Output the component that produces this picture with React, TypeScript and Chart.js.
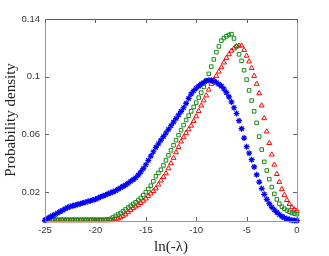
import React, { useEffect, useRef } from "react";
import { Chart, registerables } from "chart.js";

Chart.register(...registerables);

// x grid (ln(-λ)), step 0.25 from -25 to 0
const xValues: number[] = [
  -25, -24.75, -24.5, -24.25, -24, -23.75, -23.5, -23.25, -23, -22.75,
  -22.5, -22.25, -22, -21.75, -21.5, -21.25, -21, -20.75, -20.5, -20.25,
  -20, -19.75, -19.5, -19.25, -19, -18.75, -18.5, -18.25, -18, -17.75,
  -17.5, -17.25, -17, -16.75, -16.5, -16.25, -16, -15.75, -15.5, -15.25,
  -15, -14.75, -14.5, -14.25, -14, -13.75, -13.5, -13.25, -13, -12.75,
  -12.5, -12.25, -12, -11.75, -11.5, -11.25, -11, -10.75, -10.5, -10.25,
  -10, -9.75, -9.5, -9.25, -9, -8.75, -8.5, -8.25, -8, -7.75,
  -7.5, -7.25, -7, -6.75, -6.5, -6.25, -6, -5.75, -5.5, -5.25,
  -5, -4.75, -4.5, -4.25, -4, -3.75, -3.5, -3.25, -3, -2.75,
  -2.5, -2.25, -2, -1.75, -1.5, -1.25, -1, -0.75, -0.5, -0.25, 0,
];

const blueStars: number[] = [
  0.0005, 0.0018, 0.0028, 0.0037, 0.0045, 0.0055, 0.0065, 0.0075, 0.0085, 0.0093,
  0.01, 0.0105, 0.011, 0.0115, 0.012, 0.0125, 0.013, 0.0135, 0.014, 0.0145,
  0.015, 0.0158, 0.0167, 0.0173, 0.018, 0.0188, 0.0195, 0.0202, 0.021, 0.022,
  0.023, 0.024, 0.025, 0.0262, 0.0275, 0.0287, 0.03, 0.0318, 0.034, 0.0363,
  0.039, 0.042, 0.045, 0.048, 0.051, 0.0535, 0.056, 0.0585, 0.061, 0.0635,
  0.066, 0.0685, 0.071, 0.0735, 0.076, 0.0785, 0.0815, 0.085, 0.088, 0.0903,
  0.092, 0.0935, 0.095, 0.096, 0.097, 0.0975, 0.0975, 0.0968, 0.096, 0.0948,
  0.0935, 0.0915, 0.089, 0.086, 0.0825, 0.0785, 0.0745, 0.0695, 0.064, 0.0575,
  0.0515, 0.047, 0.0425, 0.0375, 0.032, 0.027, 0.0225, 0.0185, 0.015, 0.012,
  0.0095, 0.0078, 0.006, 0.0045, 0.0032, 0.0022, 0.0015, 0.001, 0.0006, 0.0004, 0.0003,
];

const greenSquares: number[] = [
  0.0008, 0.0008, 0.0008, 0.0008, 0.0008, 0.0008, 0.0008, 0.0008, 0.0008, 0.0008,
  0.0008, 0.0008, 0.0008, 0.0008, 0.0008, 0.0008, 0.0008, 0.0008, 0.0008, 0.0008,
  0.0008, 0.0008, 0.0008, 0.0008, 0.0008, 0.001, 0.0015, 0.0025, 0.0035, 0.0045,
  0.0055, 0.0068, 0.008, 0.0093, 0.0105, 0.0118, 0.013, 0.0145, 0.016, 0.018,
  0.02, 0.0222, 0.0245, 0.0275, 0.031, 0.0333, 0.0355, 0.0385, 0.042, 0.0455,
  0.049, 0.0525, 0.056, 0.0595, 0.063, 0.0665, 0.07, 0.073, 0.076, 0.079,
  0.082, 0.0855, 0.089, 0.093, 0.0975, 0.102, 0.107, 0.112, 0.117, 0.121,
  0.125, 0.1268, 0.128, 0.129, 0.1295, 0.1265, 0.121, 0.1155, 0.111, 0.1045,
  0.098, 0.0905, 0.0835, 0.076, 0.068, 0.0585, 0.0495, 0.041, 0.035, 0.029,
  0.0235, 0.0188, 0.015, 0.012, 0.0099, 0.0085, 0.0073, 0.0064, 0.0056, 0.0051, 0.0047,
];

const redTriangles: number[] = [
  0.0005, 0.0005, 0.0005, 0.0005, 0.0005, 0.0005, 0.0005, 0.0005, 0.0005, 0.0005,
  0.0005, 0.0005, 0.0005, 0.0005, 0.0005, 0.0005, 0.0005, 0.0005, 0.0005, 0.0005,
  0.0005, 0.0005, 0.0005, 0.0005, 0.0005, 0.0005, 0.0005, 0.0007, 0.001, 0.0017,
  0.0025, 0.0035, 0.0045, 0.006, 0.0075, 0.0088, 0.01, 0.0112, 0.0125, 0.014,
  0.0155, 0.0172, 0.019, 0.0207, 0.0225, 0.0252, 0.028, 0.0305, 0.033, 0.0365,
  0.04, 0.0437, 0.0475, 0.0512, 0.055, 0.058, 0.061, 0.0635, 0.066, 0.0692,
  0.0725, 0.0762, 0.08, 0.0835, 0.087, 0.091, 0.095, 0.0978, 0.1005, 0.1035,
  0.1065, 0.1098, 0.113, 0.1155, 0.118, 0.1195, 0.121, 0.1215, 0.1215, 0.1185,
  0.1145, 0.1105, 0.106, 0.1005, 0.095, 0.0885, 0.08, 0.0712, 0.062, 0.054,
  0.046, 0.039, 0.0325, 0.027, 0.022, 0.018, 0.0145, 0.0117, 0.0095, 0.008, 0.007,
];

const yTickValues: number[] = [0.02, 0.06, 0.1, 0.14];
const yTickLabels: string[] = ["0.02", "0.06", "0.1", "0.14"];
const xTickValues: number[] = [-25, -20, -15, -10, -5, 0];
const xTitle = "ln(-\u03bb)";
const yTitle = "Probability density";

const toPoints = (ys: number[]) => ys.map((y, i) => ({ x: xValues[i], y }));

const framePlugin = {
  id: "frameTicks",
  afterDatasetsDraw(chart: any) {
    const { ctx, chartArea, scales } = chart;
    const { left, right, top, bottom } = chartArea;
    const xs = scales.x;
    const ys = scales.y;
    ctx.save();
    ctx.lineWidth = 1;
    ctx.strokeStyle = "#999999";
    ctx.beginPath();
    ctx.moveTo(left + 0.5, top);
    ctx.lineTo(left + 0.5, bottom + 0.5);
    ctx.lineTo(right + 0.5, bottom + 0.5);
    ctx.lineTo(right + 0.5, top);
    ctx.stroke();
    ctx.strokeStyle = "#555555";
    ctx.beginPath();
    ctx.moveTo(left, top + 0.5);
    ctx.lineTo(right + 1, top + 0.5);
    ctx.stroke();
    ctx.strokeStyle = "#666666";
    const tl = 4;
    ctx.beginPath();
    xTickValues.forEach((v) => {
      const px = Math.round(xs.getPixelForValue(v)) + 0.5;
      ctx.moveTo(px, bottom);
      ctx.lineTo(px, bottom - tl);
      ctx.moveTo(px, top);
      ctx.lineTo(px, top + tl);
    });
    yTickValues.forEach((v) => {
      const py = Math.round(ys.getPixelForValue(v)) + 0.5;
      ctx.moveTo(left, py);
      ctx.lineTo(left + tl, py);
      ctx.moveTo(right, py);
      ctx.lineTo(right - tl, py);
    });
    ctx.stroke();
    ctx.restore();
  },
};

export default function App() {
  const canvasRef = useRef<HTMLCanvasElement | null>(null);

  useEffect(() => {
    const canvas = canvasRef.current;
    if (!canvas) return;
    const chart = new Chart(canvas, {
      type: "scatter",
      data: {
        datasets: [
          {
            label: "blue",
            data: toPoints(blueStars),
            pointStyle: "star",
            pointRadius: 3,
            borderColor: "#0000ff",
            backgroundColor: "#0000ff",
            pointBorderWidth: 1.2,
            showLine: false,
            clip: false as any,
          },
          {
            label: "green",
            data: toPoints(greenSquares),
            pointStyle: "rect",
            pointRadius: 2.5,
            borderColor: "#1a8a1a",
            backgroundColor: "rgba(0,0,0,0)",
            pointBorderWidth: 1,
            showLine: false,
            clip: false as any,
          },
          {
            label: "red",
            data: toPoints(redTriangles),
            pointStyle: "triangle",
            pointRadius: 2.8,
            borderColor: "#ff0000",
            backgroundColor: "rgba(0,0,0,0)",
            pointBorderWidth: 1,
            showLine: false,
            clip: false as any,
          },
        ],
      },
      options: {
        animation: false,
        responsive: false,
        events: [],
        layout: { padding: { left: 0, right: 32, top: 19, bottom: 0 } },
        plugins: { legend: { display: false }, tooltip: { enabled: false } },
        scales: {
          x: {
            type: "linear",
            min: -25,
            max: 0,
            afterFit: (s: any) => {
              s.height = 35;
            },
            afterBuildTicks: (s: any) => {
              s.ticks = xTickValues.map((v) => ({ value: v }));
            },
            ticks: {
              padding: 4,
              color: "#333333",
              font: { family: "Liberation Sans", size: 9.5 },
              maxRotation: 0,
              autoSkip: false,
            },
            grid: { display: false, drawTicks: false },
            border: { display: false },
            title: {
              display: true,
              text: xTitle,
              color: "#222222",
              font: { family: "Liberation Serif", size: 15 },
              padding: { top: 0, bottom: 0 },
            },
          },
          y: {
            type: "linear",
            min: 0,
            max: 0.14,
            afterFit: (s: any) => {
              s.width = 45;
            },
            afterBuildTicks: (s: any) => {
              s.ticks = yTickValues.map((v) => ({ value: v }));
            },
            ticks: {
              padding: 5,
              color: "#333333",
              font: { family: "Liberation Sans", size: 9.5 },
              autoSkip: false,
              callback: (v: any) => {
                const i = yTickValues.indexOf(Number(v));
                return i >= 0 ? yTickLabels[i] : "";
              },
            },
            grid: { display: false, drawTicks: false },
            border: { display: false },
            title: {
              display: true,
              text: yTitle,
              color: "#222222",
              font: { family: "Liberation Serif", size: 15 },
              padding: { top: 2, bottom: 0 },
            },
          },
        },
      },
      plugins: [framePlugin],
    });
    return () => chart.destroy();
  }, []);

  return (
    <div style={{ position: "fixed", left: 0, top: 0, width: 329, height: 256, background: "#fff" }}>
      <canvas ref={canvasRef} width={329} height={256} />
    </div>
  );
}
